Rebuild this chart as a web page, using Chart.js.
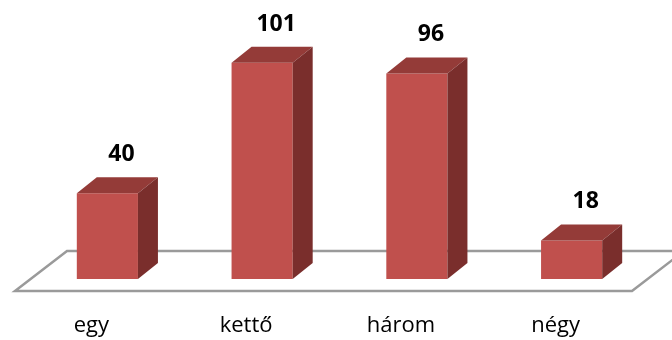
<!DOCTYPE html>
<html>
<head>
<meta charset="utf-8">
<script src="https://cdn.jsdelivr.net/npm/chart.js@4/dist/chart.umd.min.js"></script>
<style>
  html, body { margin: 0; padding: 0; background: #ffffff; }
  #wrap { width: 672px; height: 340px; }
</style>
</head>
<body>
<div id="wrap"><canvas id="chart" width="672" height="340"></canvas></div>
<script>
// Categories and values
const categories = ['egy', 'kettő', 'három', 'négy'];
const values = [40, 101, 96, 18];

// Colours of the three visible faces of each bar
const FRONT = '#C0504D';
const TOP = '#943B38';
const SIDE = '#7A2E2C';

// Depth of the bar prisms and of the floor
const BAR_DX = 20, BAR_DY = 16;
const FLOOR_DX = 52, FLOOR_DY = 40;

const floorPlugin = {
  id: 'floor3d',
  beforeDatasetsDraw(chart) {
    const { ctx, chartArea, scales } = chart;
    const y0 = scales.y.getPixelForValue(0);
    const fy = y0 + 12;           // front edge of the floor
    const fl = chartArea.left - 15;
    const fr = chartArea.right - 17;
    ctx.save();
    ctx.beginPath();
    ctx.moveTo(fl, fy);
    ctx.lineTo(fr, fy);
    ctx.lineTo(fr + FLOOR_DX, fy - FLOOR_DY);
    ctx.lineTo(fl + FLOOR_DX, fy - FLOOR_DY);
    ctx.closePath();
    ctx.fillStyle = '#ffffff';
    ctx.fill();
    ctx.strokeStyle = '#9a9a9a';
    ctx.lineWidth = 2.5;
    ctx.lineJoin = 'miter';
    ctx.stroke();
    ctx.restore();
  }
};

const prismPlugin = {
  id: 'prism3d',
  afterDatasetsDraw(chart) {
    const { ctx } = chart;
    const meta = chart.getDatasetMeta(0);
    ctx.save();
    meta.data.forEach((bar, i) => {
      const { x, y, base, width } = bar.getProps(['x', 'y', 'base', 'width'], true);
      const l = x - width / 2, r = x + width / 2;
      // top face
      ctx.beginPath();
      ctx.moveTo(l, y);
      ctx.lineTo(l + BAR_DX, y - BAR_DY);
      ctx.lineTo(r + BAR_DX, y - BAR_DY);
      ctx.lineTo(r, y);
      ctx.closePath();
      ctx.fillStyle = TOP;
      ctx.fill();
      // side face
      ctx.beginPath();
      ctx.moveTo(r, y);
      ctx.lineTo(r + BAR_DX, y - BAR_DY);
      ctx.lineTo(r + BAR_DX, base - BAR_DY);
      ctx.lineTo(r, base);
      ctx.closePath();
      ctx.fillStyle = SIDE;
      ctx.fill();
      // value label
      ctx.fillStyle = '#000000';
      ctx.font = 'bold 23px "Open Sans", sans-serif';
      ctx.textAlign = 'center';
      ctx.textBaseline = 'alphabetic';
      ctx.fillText(String(values[i]), x + 14, y - 32);
    });
    ctx.restore();
  }
};

new Chart(document.getElementById('chart'), {
  type: 'bar',
  data: {
    labels: categories,
    datasets: [{
      data: values,
      backgroundColor: FRONT,
      borderWidth: 0,
      categoryPercentage: 1.0,
      barPercentage: 0.395
    }]
  },
  options: {
    responsive: false,
    animation: false,
    devicePixelRatio: 1,
    layout: { padding: { left: 30, right: 23, top: 22, bottom: 0 } },
    plugins: {
      legend: { display: false },
      tooltip: { enabled: false }
    },
    scales: {
      x: {
        grid: { display: false, drawTicks: false },
        border: { display: false },
        ticks: {
          color: '#000000',
          font: { family: '"Open Sans", sans-serif', size: 22 },
          padding: 34,
          labelOffset: -16,
          maxRotation: 0
        },
        afterFit(scale) { scale.height = 61; }
      },
      y: {
        display: false,
        min: 0,
        max: 120
      }
    }
  },
  plugins: [floorPlugin, prismPlugin]
});
</script>
</body>
</html>
